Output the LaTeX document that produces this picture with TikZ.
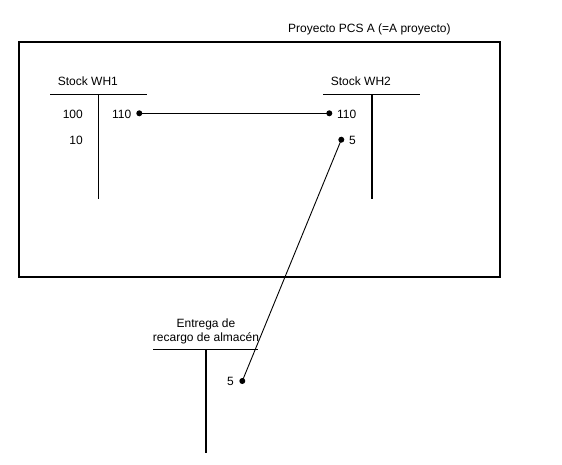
\documentclass[tikz,border=0pt]{standalone}
\usepackage{fontspec}
\setmainfont{Liberation Sans}
\begin{document}
\begin{tikzpicture}[x=1pt,y=-1pt,
  lbl/.style={inner sep=0pt,font=\fontsize{12}{14}\selectfont},
  tbar/.style={line width=1.5pt},
  frame/.style={line width=2pt},
  conn/.style={line width=0.9pt},
  dotmark/.style={circle,fill=black,inner sep=0pt,minimum size=6pt}]
\useasboundingbox (0,0) rectangle (562,464);
% project frame
\draw[frame] (18.7,42.3) rectangle (500,277.3);
\node[lbl,anchor=west] (title) at (288,29.3) {Proyecto PCS A (=A proyecto)};
% Stock WH1
\node[lbl,anchor=west] (wh1) at (57.7,81.3) {Stock WH1};
\draw[tbar] (50,94.7) -- (146.7,94.7);
\draw[tbar] (98.3,94.7) -- (98.3,199.3);
\node[lbl,anchor=east] (a100) at (83,114) {100};
\node[lbl,anchor=east] (a10) at (83,140) {10};
\node[lbl,anchor=west] (a110) at (112,114) {110};
\node[dotmark] (d1) at (139.3,113.3) {};
% Stock WH2
\node[lbl,anchor=west] (wh2) at (330.7,81.3) {Stock WH2};
\draw[tbar] (323.3,94.7) -- (420,94.7);
\draw[tbar] (372,94.7) -- (372,199.3);
\node[dotmark] (d2) at (329.3,113.3) {};
\node[lbl,anchor=west] (b110) at (337,114) {110};
\node[dotmark] (d3) at (341.3,139.7) {};
\node[lbl,anchor=west] (b5) at (349,140) {5};
% Entrega
\node[lbl,align=center,anchor=south] (ent) at (206,344.5) {Entrega de\\recargo de almac\'en};
\draw[tbar] (153.3,349.3) -- (258.3,349.3);
\draw[tbar] (206,349.3) -- (206,453.3);
\node[dotmark] (d4) at (242.3,381) {};
\node[lbl,anchor=east] (c5) at (234,381.5) {5};
% connectors
\draw[conn] (d1.center) -- (d2.center);
\draw[conn] (d3.center) -- (d4.center);
\end{tikzpicture}
\end{document}
